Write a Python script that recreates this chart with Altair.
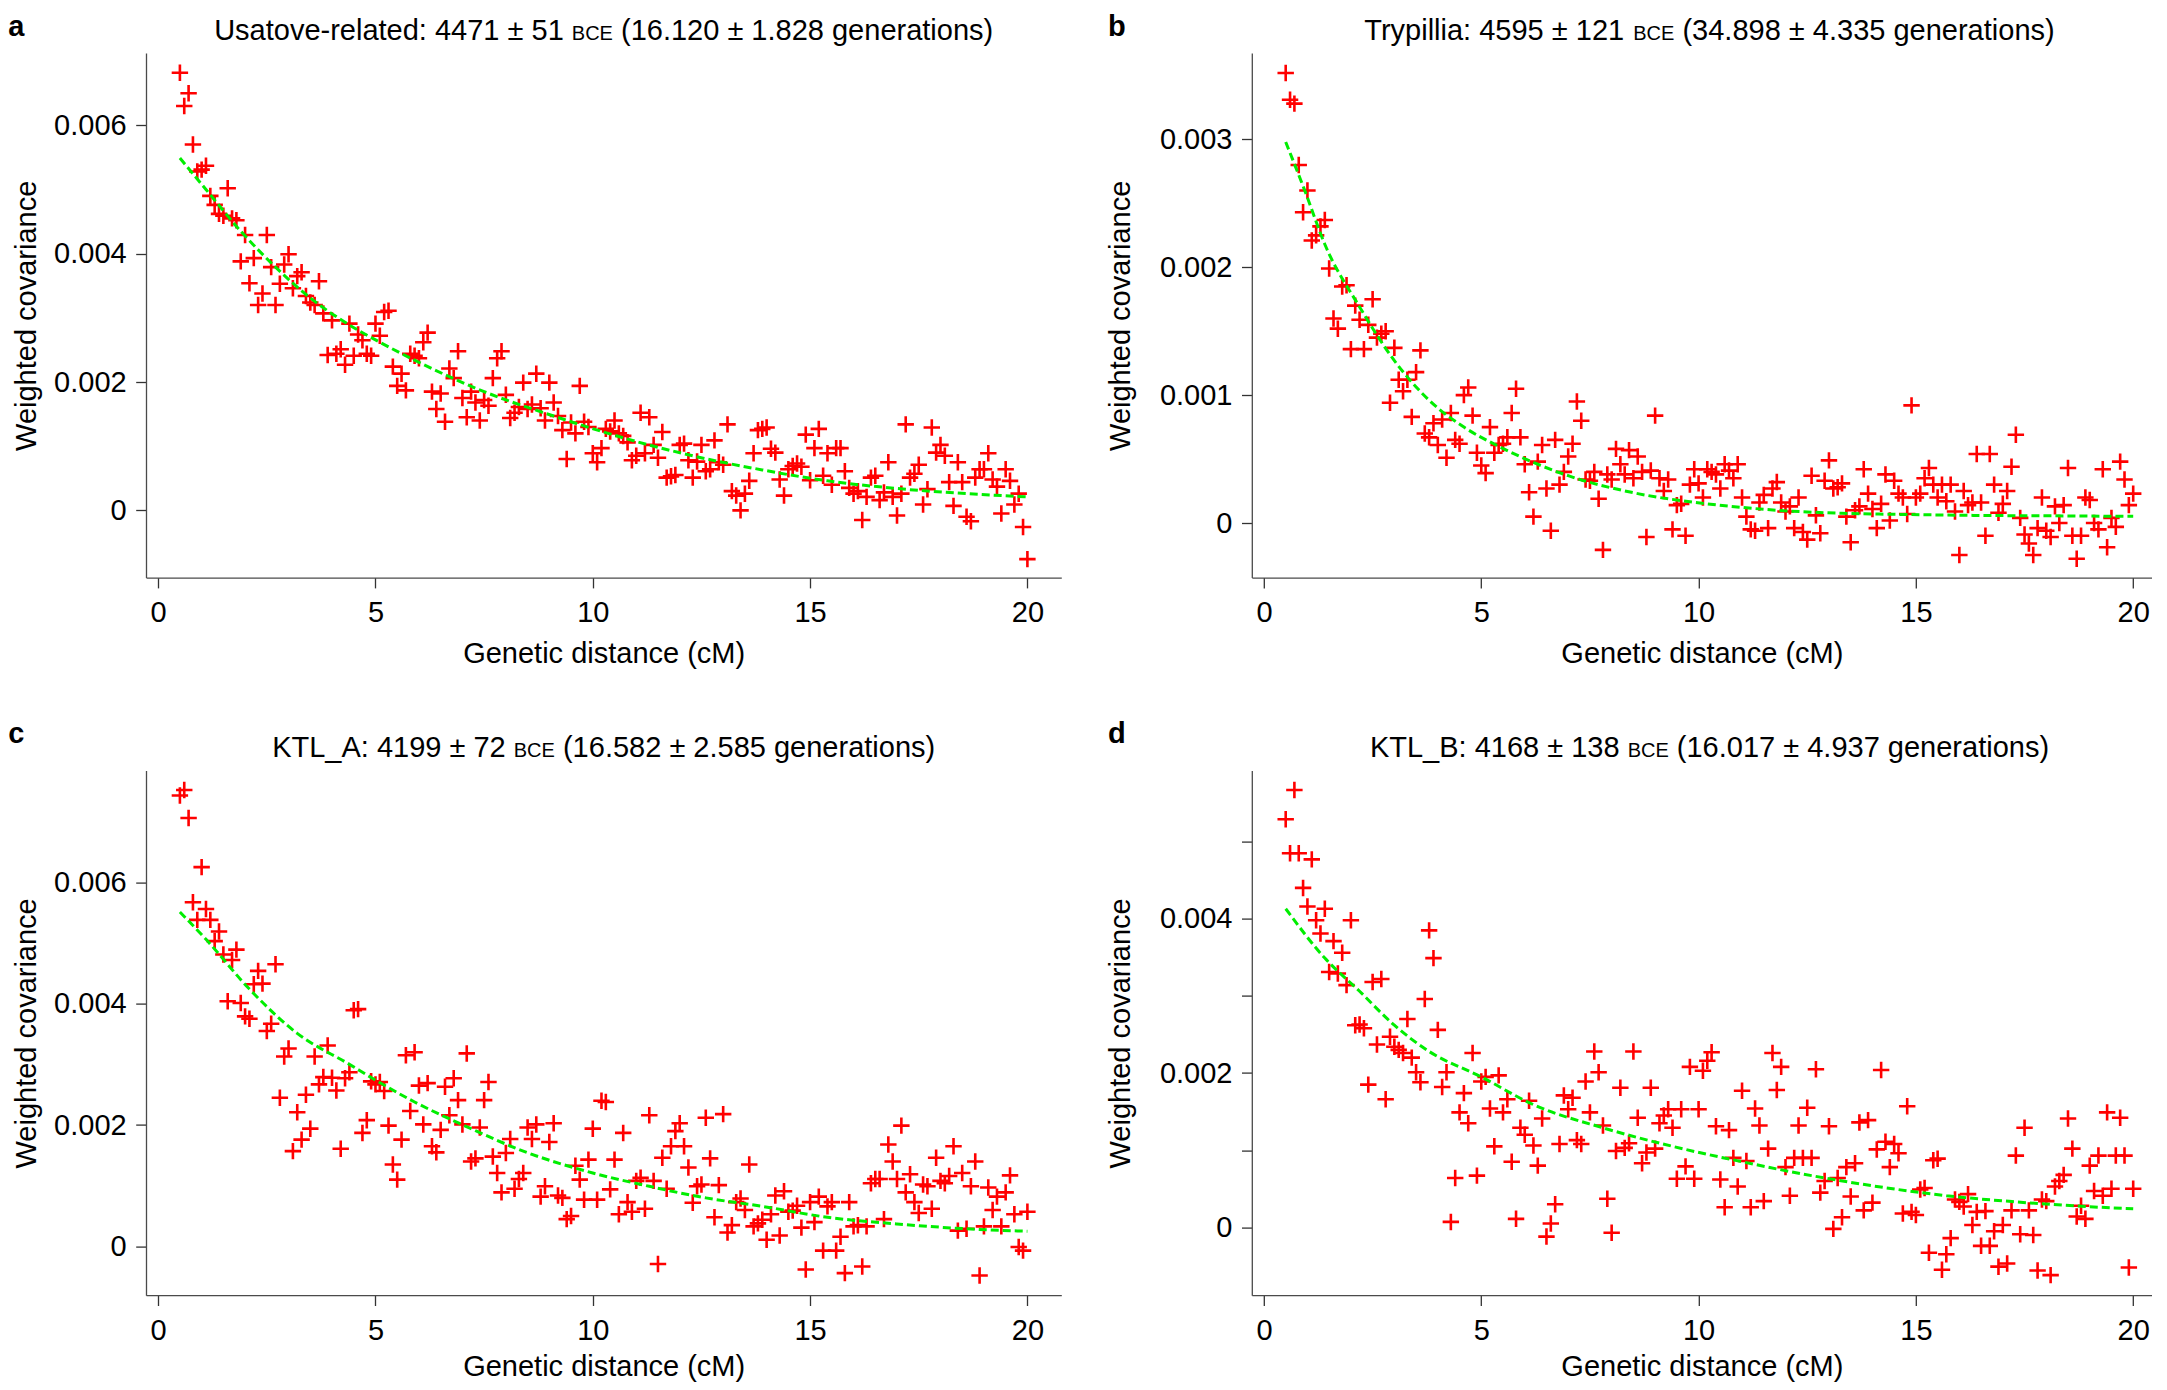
import altair as alt
import pandas as pd

# ---------------- data ----------------
DIST_CM = [
    0.5, 0.6, 0.7, 0.8, 0.9, 1.0, 1.1, 1.2, 1.3, 1.4,
    1.5, 1.6, 1.7, 1.8, 1.9, 2.0, 2.1, 2.2, 2.3, 2.4,
    2.5, 2.6, 2.7, 2.8, 2.9, 3.0, 3.1, 3.2, 3.3, 3.4,
    3.5, 3.6, 3.7, 3.8, 3.9, 4.0, 4.1, 4.2, 4.3, 4.4,
    4.5, 4.6, 4.7, 4.8, 4.9, 5.0, 5.1, 5.2, 5.3, 5.4,
    5.5, 5.6, 5.7, 5.8, 5.9, 6.0, 6.1, 6.2, 6.3, 6.4,
    6.5, 6.6, 6.7, 6.8, 6.9, 7.0, 7.1, 7.2, 7.3, 7.4,
    7.5, 7.6, 7.7, 7.8, 7.9, 8.0, 8.1, 8.2, 8.3, 8.4,
    8.5, 8.6, 8.7, 8.8, 8.9, 9.0, 9.1, 9.2, 9.3, 9.4,
    9.5, 9.6, 9.7, 9.8, 9.9, 10.0, 10.1, 10.2, 10.3, 10.4,
    10.5, 10.6, 10.7, 10.8, 10.9, 11.0, 11.1, 11.2, 11.3, 11.4,
    11.5, 11.6, 11.7, 11.8, 11.9, 12.0, 12.1, 12.2, 12.3, 12.4,
    12.5, 12.6, 12.7, 12.8, 12.9, 13.0, 13.1, 13.2, 13.3, 13.4,
    13.5, 13.6, 13.7, 13.8, 13.9, 14.0, 14.1, 14.2, 14.3, 14.4,
    14.5, 14.6, 14.7, 14.8, 14.9, 15.0, 15.1, 15.2, 15.3, 15.4,
    15.5, 15.6, 15.7, 15.8, 15.9, 16.0, 16.1, 16.2, 16.3, 16.4,
    16.5, 16.6, 16.7, 16.8, 16.9, 17.0, 17.1, 17.2, 17.3, 17.4,
    17.5, 17.6, 17.7, 17.8, 17.9, 18.0, 18.1, 18.2, 18.3, 18.4,
    18.5, 18.6, 18.7, 18.8, 18.9, 19.0, 19.1, 19.2, 19.3, 19.4,
    19.5, 19.6, 19.7, 19.8, 19.9, 20.0,
]

# weighted covariance, in units of 1e-3
USATOVE_COV = [
    6.82, 6.30, 6.50, 5.70, 5.28, 5.31, 5.37, 4.90, 4.76, 4.62,
    4.59, 5.02, 4.55, 4.52, 3.88, 4.29, 3.54, 3.93, 3.20, 3.38,
    4.29, 3.79, 3.20, 3.53, 3.83, 3.99, 3.46, 3.65, 3.71, 3.34,
    3.24, 3.20, 3.57, 3.07, 2.42, 2.96, 2.44, 2.51, 2.27, 2.91,
    2.41, 2.74, 2.65, 2.44, 2.41, 2.91, 2.72, 3.09, 3.11, 2.24,
    1.94, 2.13, 1.87, 2.44, 2.41, 2.37, 2.62, 2.77, 1.85, 1.58,
    1.82, 1.38, 2.21, 2.06, 2.48, 1.75, 1.45, 1.85, 1.68, 1.40,
    1.72, 1.63, 2.06, 2.37, 2.48, 1.80, 1.44, 1.52, 1.61, 1.99,
    1.58, 1.65, 2.13, 1.59, 1.40, 1.99, 1.68, 1.47, 1.25, 0.80,
    1.37, 1.20, 1.94, 1.38, 1.30, 0.89, 0.75, 0.97, 1.27, 1.23,
    1.40, 1.20, 1.16, 1.06, 0.78, 0.85, 1.52, 0.89, 1.45, 1.02,
    0.82, 1.22, 0.51, 0.53, 0.55, 1.02, 1.04, 0.78, 0.51, 0.76,
    1.02, 0.61, 0.64, 1.09, 0.75, 0.71, 1.34, 0.30, 0.23, 0.00,
    0.26, 0.46, 0.89, 1.25, 1.27, 1.29, 0.96, 0.90, 0.48, 0.23,
    0.64, 0.69, 0.73, 0.68, 1.18, 0.47, 0.97, 1.27, 0.54, 0.89,
    0.40, 0.97, 0.97, 0.61, 0.35, 0.26, 0.30, -0.15, 0.21, 0.51,
    0.54, 0.16, 0.28, 0.75, 0.21, -0.08, 0.26, 1.34, 0.51, 0.57,
    0.71, 0.09, 0.33, 1.29, 0.90, 1.02, 0.85, 0.44, 0.07, 0.75,
    0.44, -0.10, -0.17, 0.51, 0.64, 0.64, 0.89, 0.48, 0.37, -0.05,
    0.64, 0.46, 0.09, 0.26, -0.26, -0.76,
]
TRYPILLIA_COV = [
    3.52, 3.31, 3.28, 2.80, 2.43, 2.60, 2.21, 2.25, 2.32, 2.37,
    1.99, 1.60, 1.52, 1.85, 1.86, 1.36, 1.70, 1.59, 1.36, 1.55,
    1.75, 1.45, 1.48, 1.50, 0.94, 1.37, 1.12, 1.03, 1.12, 0.83,
    1.18, 1.35, 0.70, 0.67, 0.78, 0.61, 0.81, 0.51, 0.86, 0.65,
    0.62, 1.00, 1.06, 0.84, 0.55, 0.45, 0.39, 0.75, 0.55, 0.61,
    0.62, 0.67, 0.86, 1.05, 0.67, 0.46, 0.24, 0.05, 0.48, 0.61,
    0.27, -0.06, 0.65, 0.30, 0.40, 0.52, 0.62, 0.95, 0.80, 0.34,
    0.33, 0.40, 0.19, -0.21, 0.38, 0.34, 0.58, 0.46, 0.38, 0.57,
    0.35, 0.52, 0.40, -0.11, 0.41, 0.84, 0.35, 0.25, 0.34, -0.05,
    0.14, 0.15, -0.10, 0.30, 0.42, 0.31, 0.20, 0.42, 0.40, 0.38,
    0.27, 0.46, 0.41, 0.35, 0.46, 0.20, 0.05, -0.05, -0.06, 0.16,
    0.22, -0.04, 0.27, 0.32, 0.16, 0.09, 0.13, -0.04, 0.20, -0.07,
    -0.13, 0.37, 0.06, -0.08, 0.33, 0.49, 0.27, 0.28, 0.31, 0.05,
    -0.15, 0.10, 0.13, 0.42, 0.23, 0.11, -0.04, 0.15, 0.38, 0.02,
    0.33, 0.23, 0.20, 0.07, 0.92, 0.20, 0.23, 0.35, 0.43, 0.30,
    0.20, 0.30, 0.17, 0.30, 0.09, -0.25, 0.25, 0.14, 0.16, 0.54,
    0.16, -0.10, 0.54, 0.30, 0.08, 0.15, 0.25, 0.44, 0.69, 0.04,
    -0.09, -0.16, -0.25, -0.04, 0.20, -0.06, -0.11, 0.13, 0.00, 0.14,
    0.43, -0.10, -0.28, -0.10, 0.20, 0.18, 0.00, -0.05, 0.42, -0.19,
    0.04, -0.03, 0.48, 0.34, 0.14, 0.23,
]
KTL_A_COV = [
    7.43, 7.52, 7.06, 5.67, 5.38, 6.25, 5.56, 5.38, 5.03, 5.19,
    4.81, 4.04, 4.72, 4.89, 4.01, 3.79, 3.75, 4.32, 4.54, 4.33,
    3.55, 3.67, 4.65, 2.45, 3.13, 3.26, 1.57, 2.21, 1.76, 2.50,
    1.94, 3.13, 2.67, 2.79, 3.31, 2.78, 2.57, 1.61, 2.77, 2.87,
    3.89, 3.91, 1.87, 2.08, 2.72, 2.67, 2.71, 2.56, 1.99, 1.35,
    1.10, 1.76, 3.15, 2.23, 3.20, 2.65, 2.01, 2.69, 1.65, 1.55,
    1.92, 2.63, 2.16, 2.77, 2.41, 2.01, 3.18, 1.40, 1.45, 1.96,
    2.41, 2.71, 1.48, 1.21, 0.89, 1.54, 1.77, 0.95, 1.11, 1.21,
    1.96, 1.77, 2.01, 0.82, 0.99, 1.72, 2.03, 0.84, 0.80, 0.45,
    0.50, 1.33, 1.10, 0.77, 1.43, 1.94, 0.77, 2.40, 2.38, 0.94,
    1.43, 0.53, 1.87, 0.73, 0.57, 1.08, 1.13, 0.62, 2.16, 1.08,
    -0.29, 1.46, 0.95, 1.65, 1.90, 2.03, 1.65, 1.30, 0.72, 0.99,
    1.02, 2.12, 1.45, 0.48, 1.01, 2.18, 0.23, 0.35, 0.73, 0.79,
    0.60, 1.35, 0.33, 0.38, 0.44, 0.11, 0.53, 0.84, 0.18, 0.91,
    0.57, 0.59, 0.67, 0.31, -0.38, 0.73, 0.40, 0.82, -0.07, 0.66,
    0.73, -0.07, 0.16, -0.44, 0.73, 0.33, 0.35, -0.33, 0.33, 1.04,
    1.11, 1.11, 0.45, 1.68, 1.40, 1.11, 1.99, 0.89, 1.19, 0.73,
    0.55, 1.02, 0.99, 0.62, 1.46, 1.08, 1.04, 1.16, 1.65, 0.26,
    1.21, 0.29, 0.99, 1.40, -0.48, 0.33, 0.97, 0.60, 0.82, 0.33,
    0.89, 1.17, 0.53, -0.01, -0.07, 0.57,
]
KTL_B_COV = [
    5.29, 4.85, 5.67, 4.85, 4.40, 4.16, 4.77, 3.98, 3.81, 4.13,
    3.31, 3.71, 3.29, 3.56, 3.14, 3.98, 2.62, 2.63, 2.58, 1.85,
    3.18, 2.37, 3.22, 1.66, 2.47, 2.34, 2.30, 2.26, 2.70, 2.20,
    2.01, 1.88, 2.96, 3.85, 3.49, 2.56, 1.82, 2.01, 0.07, 0.64,
    1.49, 1.74, 1.35, 2.26, 0.67, 1.89, 1.95, 1.54, 1.05, 1.97,
    1.49, 1.66, 0.85, 0.11, 1.29, 1.20, 1.64, 1.06, 0.80, 1.41,
    -0.12, 0.05, 0.30, 1.08, 1.71, 1.53, 1.68, 1.13, 1.08, 1.89,
    1.49, 2.28, 2.01, 1.32, 0.37, -0.07, 0.99, 1.81, 1.03, 1.09,
    2.28, 1.42, 0.83, 0.97, 1.81, 1.02, 1.35, 1.45, 1.53, 1.29,
    0.63, 1.53, 0.79, 2.08, 0.63, 1.53, 2.03, 2.16, 2.27, 1.31,
    0.62, 0.26, 1.26, 0.90, 0.53, 1.77, 0.86, 0.26, 1.54, 1.32,
    0.34, 1.02, 2.26, 1.78, 2.08, 0.78, 0.41, 0.90, 1.32, 0.90,
    1.55, 0.90, 2.05, 0.45, 0.60, 1.31, -0.02, 0.64, 0.13, 0.78,
    0.40, 0.83, 1.36, 0.22, 1.39, 0.32, 1.01, 2.04, 1.11, 0.78,
    1.08, 0.96, 0.18, 1.57, 0.20, 0.16, 0.49, 0.51, -0.33, 0.87,
    0.89, -0.55, -0.35, -0.14, 0.36, 0.33, 0.27, 0.43, 0.03, 0.20,
    -0.24, 0.21, -0.24, -0.05, -0.51, 0.03, -0.47, 0.22, 0.93, -0.09,
    1.29, 0.22, -0.10, -0.56, 0.36, 0.34, -0.62, 0.53, 0.60, 0.68,
    1.41, 1.02, 0.14, 0.28, 0.11, 0.80, 0.47, 0.93, 0.41, 1.49,
    0.50, 0.93, 1.42, 0.93, -0.52, 0.50,
]

# fitted curves (green dashed), covariance in 1e-3
USATOVE_FIT_CM = [0.5, 1.1, 1.9, 2.7, 3.5, 4.3, 5.1, 5.9, 7.5, 9.1, 10.7, 12.3, 13.9, 15.4, 17.0, 18.6, 20.0]
USATOVE_FIT_COV = [5.49, 5.00, 4.35, 3.79, 3.31, 2.93, 2.62, 2.34, 1.85, 1.47, 1.13, 0.85, 0.63, 0.46, 0.34, 0.26, 0.21]
TRYPILLIA_FIT_CM = [0.5, 0.95, 1.4, 2.2, 3.0, 3.8, 4.6, 5.4, 7.0, 8.6, 10.2, 11.8, 13.3, 14.9, 16.5, 18.1, 20.0]
TRYPILLIA_FIT_COV = [2.98, 2.59, 2.18, 1.69, 1.27, 0.96, 0.75, 0.60, 0.37, 0.23, 0.15, 0.10, 0.076, 0.066, 0.059, 0.056, 0.052]
KTL_A_FIT_CM = [0.5, 1.1, 2.1, 3.2, 4.4, 5.0, 5.9, 7.2, 8.4, 10.0, 11.3, 12.6, 13.9, 15.4, 17.0, 18.6, 20.0]
KTL_A_FIT_COV = [5.51, 5.06, 4.24, 3.51, 3.00, 2.74, 2.38, 1.94, 1.57, 1.21, 0.99, 0.80, 0.66, 0.48, 0.37, 0.29, 0.25]
KTL_B_FIT_CM = [0.5, 1.4, 2.2, 3.0, 3.8, 5.0, 6.2, 7.8, 9.4, 11.0, 12.6, 14.1, 15.7, 17.3, 18.9, 20.0]
KTL_B_FIT_COV = [4.13, 3.49, 3.06, 2.62, 2.28, 1.95, 1.59, 1.29, 1.05, 0.85, 0.67, 0.53, 0.41, 0.33, 0.27, 0.24]

X_TICKS = [0, 5, 10, 15, 20]
USATOVE_Y_TICKS = [0, 0.002, 0.004, 0.006]
TRYPILLIA_Y_TICKS = [0, 0.001, 0.002, 0.003]
KTL_A_Y_TICKS = [0, 0.002, 0.004, 0.006]
KTL_B_Y_TICKS = [0, 0.001, 0.002, 0.003, 0.004, 0.005]

TITLE_PARTS = {
    "a": ("Usatove-related: 4471 \u00b1 51", "BCE", "(16.120 \u00b1 1.828 generations)"),
    "b": ("Trypillia: 4595 \u00b1 121", "BCE", "(34.898 \u00b1 4.335 generations)"),
    "c": ("KTL_A: 4199 \u00b1 72", "BCE", "(16.582 \u00b1 2.585 generations)"),
    "d": ("KTL_B: 4168 \u00b1 138", "BCE", "(16.017 \u00b1 4.937 generations)"),
}
X_TITLE = "Genetic distance (cM)"
Y_TITLE = "Weighted covariance"

# ---------------- styling / layout ----------------
FONT = "Liberation Sans"
FS = 29
BCE_FS = 20
RED = "#ff0000"
GREEN = "#00ee00"
CROSS = "M-1,0H1M0,-1V1"
W_FULL = 915.3
H = 524.6
X_LO, X_HI = -0.28, 20.78

# Arial / Liberation Sans advance widths (per 1000 em) for title layout
AW = {' ': 278, '(': 333, ')': 333, '-': 333, '.': 278, ':': 278, '_': 556, '\u00b1': 549,
      'A': 667, 'B': 667, 'C': 722, 'E': 667, 'K': 667, 'L': 556, 'T': 611, 'U': 722,
      'a': 556, 'd': 556, 'e': 556, 'g': 556, 'i': 222, 'l': 222, 'n': 556, 'o': 556,
      'p': 556, 'r': 333, 's': 500, 't': 278, 'v': 500, 'y': 500}


def tw(s, size):
    return sum(AW.get(ch, 556) for ch in s) * size / 1000.0


def text_layer(s, x, y, size=FS, weight="normal"):
    return alt.Chart(pd.DataFrame({"t": [s]})).mark_text(
        align="left", baseline="alphabetic", font=FONT, fontSize=size,
        fontWeight=weight, color="#000000"
    ).encode(x=alt.value(x), y=alt.value(y), text="t:N")


def panel(key, cov, fit_x, fit_y, ydom, yticks, even_only, x_hi, letter_dx,
          letter_dy, y_title_pad, x_title_pad):
    px_per = W_FULL / (X_HI - X_LO)
    width = (x_hi - X_LO) * px_per
    pts = pd.DataFrame({"d": DIST_CM, "c": [v * 1e-3 for v in cov]})
    fit = pd.DataFrame({"d": fit_x, "c": [v * 1e-3 for v in fit_y]})

    base_lab = "datum.value == 0 ? '0' : format(datum.value, '.3f')"
    if even_only:
        lab = "(round(datum.value * 1000) % 2 == 0) ? (" + base_lab + ") : ''"
    else:
        lab = base_lab

    xaxis = alt.Axis(values=X_TICKS, title=X_TITLE, labelExpr="format(datum.value, 'd')",
                     tickSize=10.3, labelPadding=10.6, titlePadding=x_title_pad)
    yaxis = alt.Axis(values=yticks, title=Y_TITLE, labelExpr=lab,
                     tickSize=10.3, labelPadding=9.5, titlePadding=y_title_pad)

    points = alt.Chart(pts).mark_point(
        shape=CROSS, filled=False, size=270, strokeWidth=2.6, color=RED, opacity=1
    ).encode(
        x=alt.X("d:Q", scale=alt.Scale(domain=[X_LO, x_hi], nice=False, zero=False), axis=xaxis),
        y=alt.Y("c:Q", scale=alt.Scale(domain=ydom, nice=False, zero=False), axis=yaxis),
    )
    line = alt.Chart(fit).mark_line(
        color=GREEN, strokeDash=[8, 4], strokeWidth=3, interpolate="monotone"
    ).encode(x="d:Q", y="c:Q")

    p1, p2, p3 = TITLE_PARTS[key]
    sp = tw(" ", FS)
    w1, w2, w3 = tw(p1, FS), tw(p2, BCE_FS), tw(p3, FS)
    total = w1 + sp + w2 + sp + w3
    x0 = W_FULL / 2 - total / 2
    ty = -13.4
    t1 = text_layer(p1, x0, ty)
    t2 = text_layer(p2, x0 + w1 + sp, ty, size=BCE_FS)
    t3 = text_layer(p3, x0 + w1 + sp + w2 + sp, ty)
    letter = text_layer(key, letter_dx, letter_dy, weight="bold")

    return alt.layer(points, line, t1, t2, t3, letter).properties(width=width, height=H)


pa = panel("a", USATOVE_COV, USATOVE_FIT_CM, USATOVE_FIT_COV, [-0.001048, 0.007127],
           USATOVE_Y_TICKS, False, X_HI, -137.7, -17.4, 12.5, 11.5)
pb = panel("b", TRYPILLIA_COV, TRYPILLIA_FIT_CM, TRYPILLIA_FIT_COV, [-0.000427, 0.003676],
           TRYPILLIA_Y_TICKS, False, 20.43, -143.8, -17.4, 23.6, 11.5)
pc = panel("c", KTL_A_COV, KTL_A_FIT_CM, KTL_A_FIT_COV, [-0.000804, 0.00784],
           KTL_A_Y_TICKS, False, X_HI, -137.7, -27.6, 12.5, 7)
pdd = panel("d", KTL_B_COV, KTL_B_FIT_CM, KTL_B_FIT_COV, [-0.00088, 0.005921],
            KTL_B_Y_TICKS, True, 20.43, -143.8, -27.6, 23.6, 7)

chart = alt.concat(
    pa, pb, pc, pdd, columns=2, spacing={"row": 192.6, "column": 189.8}, bounds="flush"
).properties(
    padding={"top": 4, "left": 0, "right": 0, "bottom": 0}
).configure_view(strokeWidth=0).configure_axis(
    grid=False, domainColor="#4a4a4a", domainWidth=1.3, tickColor="#333333", tickWidth=1.3,
    labelFont=FONT, labelFontSize=FS, labelColor="#000000", labelFlush=False, labelOverlap=False,
    titleFont=FONT, titleFontSize=FS, titleFontWeight="normal", titleColor="#000000",
)

chart.save("out.html", embed_options={"renderer": "svg", "actions": False})
